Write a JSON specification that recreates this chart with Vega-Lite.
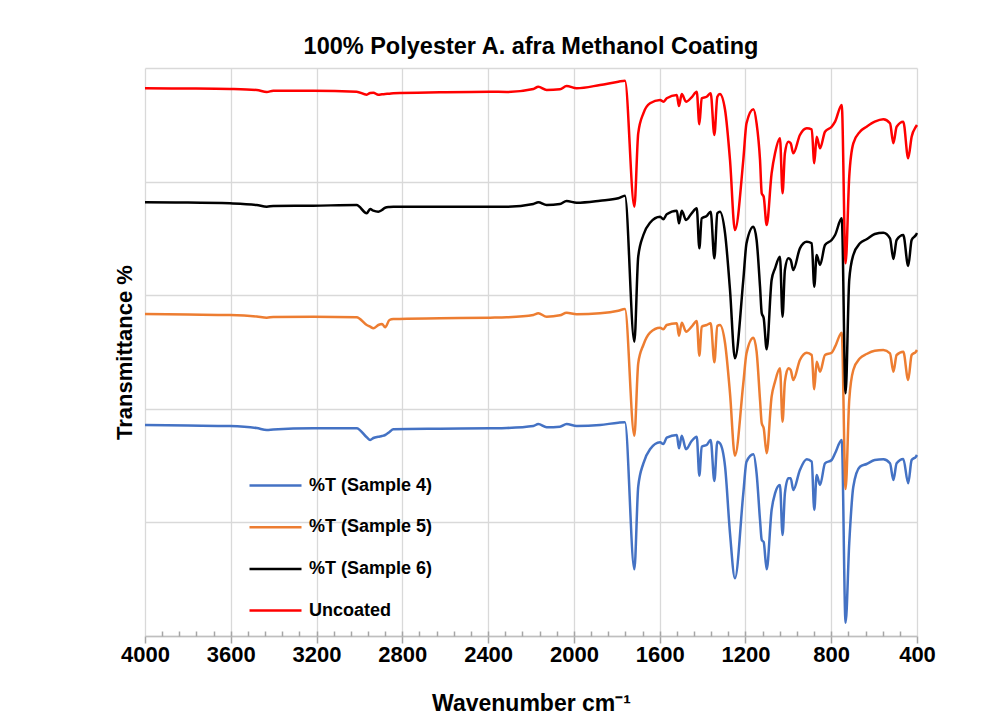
{
  "$schema": "https://vega.github.io/schema/vega-lite/v6.json",
  "width": 772,
  "height": 568,
  "autosize": {"type": "none"},
  "padding": {"left": 145, "top": 68, "right": 80, "bottom": 81},
  "background": "white",
  "title": {"text": "100% Polyester A. afra Methanol Coating", "font": "Liberation Sans", "fontSize": 23.5, "fontWeight": "bold", "color": "#000000", "anchor": "middle", "offset": 10},
  "config": {"view": {"stroke": null}},
  "data": {"values": [
    {"wn":4000,"s4":211,"s5":322,"s6":433.7,"u":547.7},
    {"wn":3800,"s4":210.5,"s5":321.5,"s6":433.5,"u":547.5},
    {"wn":3604,"s4":210,"s5":321,"s6":432.7,"u":547},
    {"wn":3479,"s4":208,"s5":319.5,"s6":431,"u":546},
    {"wn":3432,"s4":206,"s5":318.3,"s6":429.3,"u":544},
    {"wn":3402,"s4":206.5,"s5":319,"s6":430,"u":545.3},
    {"wn":3215,"s4":207.7,"s5":319.3,"s6":430.3,"u":545.3},
    {"wn":3013,"s4":207.7,"s5":318.7,"s6":431,"u":544.3},
    {"wn":2966,"s4":198.7,"s5":311,"s6":422.7,"u":541.3},
    {"wn":2950,"s4":196,"s5":309.3,"s6":427,"u":543},
    {"wn":2935,"s4":198,"s5":307.7,"s6":425.3,"u":543.3},
    {"wn":2912,"s4":199.3,"s5":311,"s6":424.3,"u":541.3},
    {"wn":2895,"s4":200,"s5":312,"s6":426,"u":541.7},
    {"wn":2880,"s4":201,"s5":308.7,"s6":428.3,"u":542},
    {"wn":2860,"s4":204,"s5":316,"s6":429,"u":542.3},
    {"wn":2842,"s4":206.7,"s5":317,"s6":429.3,"u":542.7},
    {"wn":2624,"s4":207.3,"s5":317.7,"s6":429.3,"u":543.7},
    {"wn":2391,"s4":207.7,"s5":318.3,"s6":429.3,"u":544.3},
    {"wn":2313,"s4":208,"s5":318.7,"s6":429.3,"u":544},
    {"wn":2189,"s4":210,"s5":321,"s6":432,"u":547},
    {"wn":2166,"s4":212,"s5":322.7,"s6":433.7,"u":549.3},
    {"wn":2127,"s4":208.7,"s5":319.3,"s6":431,"u":546},
    {"wn":2065,"s4":209.3,"s5":320.7,"s6":432,"u":546.7},
    {"wn":2034,"s4":212,"s5":323.3,"s6":435,"u":550},
    {"wn":1987,"s4":210,"s5":321.7,"s6":433.3,"u":547.7},
    {"wn":1878,"s4":211,"s5":322.7,"s6":435.3,"u":551},
    {"wn":1793,"s4":213.3,"s5":325.3,"s6":437.7,"u":554.3},
    {"wn":1762,"s4":213.7,"s5":327,"s6":440.3,"u":555.3},
    {"wn":1718,"s4":66.7,"s5":200.3,"s6":294.3,"u":429.3},
    {"wn":1700,"s4":149.3,"s5":272.7,"s6":379.3,"u":502.7},
    {"wn":1676,"s4":172.7,"s5":291,"s6":401,"u":522.7},
    {"wn":1645,"s4":186.7,"s5":303.3,"s6":413.3,"u":532.7},
    {"wn":1598,"s4":193.7,"s5":308.3,"s6":419.3,"u":536},
    {"wn":1583,"s4":192,"s5":306.7,"s6":416.7,"u":534.3},
    {"wn":1567,"s4":198.3,"s5":311,"s6":421.7,"u":537.7},
    {"wn":1520,"s4":201,"s5":312.7,"s6":425.3,"u":541},
    {"wn":1510,"s4":187.7,"s5":300.3,"s6":412.7,"u":530},
    {"wn":1497,"s4":200.3,"s5":313.3,"s6":425.3,"u":542},
    {"wn":1477,"s4":186.7,"s5":304.3,"s6":416,"u":534.3},
    {"wn":1451,"s4":195,"s5":309.3,"s6":422.7,"u":538.7},
    {"wn":1427,"s4":199.3,"s5":315,"s6":427.7,"u":544.3},
    {"wn":1415,"s4":160.3,"s5":280.3,"s6":387.7,"u":511.7},
    {"wn":1404,"s4":189.3,"s5":309.3,"s6":417.7,"u":537.7},
    {"wn":1381,"s4":191,"s5":311,"s6":420,"u":539.3},
    {"wn":1362,"s4":196,"s5":312.7,"s6":424.3,"u":542.7},
    {"wn":1345,"s4":155,"s5":273.7,"s6":377.7,"u":501},
    {"wn":1331,"s4":194.3,"s5":310,"s6":422.7,"u":539.3},
    {"wn":1319,"s4":192.7,"s5":311,"s6":424.3,"u":542},
    {"wn":1295,"s4":169.3,"s5":292.7,"s6":402.7,"u":526},
    {"wn":1272,"s4":102.7,"s5":242.7,"s6":346,"u":476},
    {"wn":1249,"s4":57.7,"s5":180.3,"s6":277.7,"u":406},
    {"wn":1210,"s4":142.7,"s5":252.7,"s6":356,"u":476},
    {"wn":1195,"s4":174.3,"s5":282.7,"s6":392.7,"u":512.7},
    {"wn":1163,"s4":181.7,"s5":298.3,"s6":409.3,"u":526.7},
    {"wn":1148,"s4":162.7,"s5":284.3,"s6":396,"u":512.7},
    {"wn":1132,"s4":116,"s5":236,"s6":349.3,"u":476},
    {"wn":1124,"s4":96,"s5":212.7,"s6":322.7,"u":442.7},
    {"wn":1115,"s4":94,"s5":208,"s6":318,"u":439.3},
    {"wn":1101,"s4":66.7,"s5":182.7,"s6":286.7,"u":411},
    {"wn":1078,"s4":126,"s5":239.3,"s6":356,"u":462.7},
    {"wn":1062,"s4":142.7,"s5":254.3,"s6":367.7,"u":482.7},
    {"wn":1039,"s4":151,"s5":267.7,"s6":379.3,"u":497.7},
    {"wn":1027,"s4":101,"s5":214.3,"s6":319.3,"u":442.7},
    {"wn":1016,"s4":142.7,"s5":254.3,"s6":366,"u":482.7},
    {"wn":1000,"s4":157.7,"s5":267.7,"s6":377.7,"u":494.3},
    {"wn":989,"s4":157.7,"s5":266,"s6":376,"u":492.7},
    {"wn":977,"s4":146,"s5":256,"s6":366,"u":482.7},
    {"wn":946,"s4":166,"s5":276,"s6":387.7,"u":501},
    {"wn":914,"s4":176.7,"s5":283.3,"s6":394.3,"u":507.7},
    {"wn":891,"s4":174.3,"s5":281,"s6":392.7,"u":506.7},
    {"wn":879,"s4":126,"s5":246.7,"s6":349.3,"u":472.7},
    {"wn":868,"s4":161,"s5":274.3,"s6":381,"u":499.3},
    {"wn":852,"s4":151,"s5":264.3,"s6":371,"u":487.7},
    {"wn":829,"s4":172.7,"s5":281,"s6":391,"u":504.3},
    {"wn":798,"s4":176,"s5":283.3,"s6":396,"u":509.3},
    {"wn":782,"s4":182.7,"s5":289.3,"s6":401,"u":514.3},
    {"wn":751,"s4":196,"s5":303.3,"s6":417.7,"u":531},
    {"wn":733,"s4":13.3,"s5":147,"s6":242.7,"u":372.7},
    {"wn":716,"s4":92.7,"s5":236,"s6":356,"u":459.3},
    {"wn":697,"s4":149.3,"s5":266,"s6":381,"u":492.7},
    {"wn":666,"s4":169.3,"s5":277.7,"s6":392.7,"u":504.3},
    {"wn":635,"s4":172,"s5":282,"s6":396.7,"u":509.3},
    {"wn":597,"s4":176,"s5":285.3,"s6":402,"u":514.3},
    {"wn":557,"s4":176.7,"s5":286,"s6":403.3,"u":516.7},
    {"wn":526,"s4":172.7,"s5":282.7,"s6":397.7,"u":512.7},
    {"wn":510,"s4":156,"s5":264.3,"s6":377,"u":492.7},
    {"wn":495,"s4":172.7,"s5":281,"s6":396,"u":509.3},
    {"wn":464,"s4":177,"s5":284.3,"s6":401,"u":514.3},
    {"wn":441,"s4":152.7,"s5":256,"s6":370,"u":477.7},
    {"wn":425,"s4":176,"s5":281,"s6":396,"u":499.3},
    {"wn":405,"s4":179.3,"s5":284.3,"s6":401,"u":509.3},
    {"wn":400,"s4":181,"s5":286,"s6":403,"u":511}
  ]},
  "transform": [{"fold": ["s4", "s5", "s6", "u"], "as": ["series", "T"]}],
  "resolve": {"axis": {"x": "independent"}},
  "layer": [
    {
      "mark": {"type": "line", "strokeWidth": 2.5, "interpolate": "monotone"},
      "encoding": {
        "x": {"field": "wn", "type": "quantitative",
          "scale": {"domain": [400, 4000], "reverse": true, "nice": false, "zero": false},
          "axis": {"orient": "bottom", "values": [4000, 3600, 3200, 2800, 2400, 2000, 1600, 1200, 800, 400], "format": "d",
            "labelFlush": false, "labelOverlap": false,
            "labelFont": "Liberation Sans", "labelFontSize": 22, "labelFontWeight": "bold", "labelColor": "#000000",
            "labelPadding": 1, "ticks": true, "tickSize": 7, "tickColor": "#a6a6a6", "tickWidth": 1.5, "domainColor": "#bfbfbf", "domainWidth": 1.5,
            "grid": true, "gridColor": "#d9d9d9", "gridWidth": 1.3,
            "title": "Wavenumber cm⁻¹", "titleFont": "Liberation Sans", "titleFontSize": 23, "titleFontWeight": "bold", "titleColor": "#000000", "titlePadding": 27}},
        "y": {"field": "T", "type": "quantitative",
          "scale": {"domain": [0, 568], "nice": false, "zero": false},
          "axis": {"values": [0, 113.6, 227.2, 340.8, 454.4, 568], "labels": false, "ticks": false, "domain": false,
            "grid": true, "gridColor": "#d9d9d9", "gridWidth": 1.3,
            "title": "Transmittance %", "titleFont": "Liberation Sans", "titleFontSize": 22, "titleFontWeight": "bold", "titleColor": "#000000", "titlePadding": 9}},
        "color": {"field": "series", "type": "nominal",
          "scale": {"domain": ["s4", "s5", "s6", "u"], "range": ["#4472C4", "#ED7D31", "#000000", "#FF0000"]},
          "legend": {"orient": "none", "legendX": 103, "legendY": 390, "title": null,
            "labelExpr": "datum.label == 's4' ? '%T (Sample 4)' : datum.label == 's5' ? '%T (Sample 5)' : datum.label == 's6' ? '%T (Sample 6)' : 'Uncoated'",
            "symbolType": "stroke", "symbolSize": 2704, "symbolStrokeWidth": 2.5,
            "labelFont": "Liberation Sans", "labelFontSize": 18, "labelFontWeight": "bold", "labelColor": "#000000",
            "labelOffset": 6, "rowPadding": 4.7}}
      }
    },
    {
      "mark": {"type": "point", "opacity": 0},
      "encoding": {
        "x": {"field": "wn", "type": "quantitative",
          "axis": {"orient": "bottom", "offset": -5, "values": [3920, 3840, 3760, 3680, 3600, 3520, 3440, 3360, 3280, 3200, 3120, 3040, 2960, 2880, 2800, 2720, 2640, 2560, 2480, 2400, 2320, 2240, 2160, 2080, 2000, 1920, 1840, 1760, 1680, 1600, 1520, 1440, 1360, 1280, 1200, 1120, 1040, 960, 880, 800, 720, 640, 560, 480],
            "labels": false, "domain": false, "grid": false, "ticks": true, "tickSize": 5, "tickColor": "#a6a6a6", "tickWidth": 1.5, "title": null}}
      }
    }
  ]
}
